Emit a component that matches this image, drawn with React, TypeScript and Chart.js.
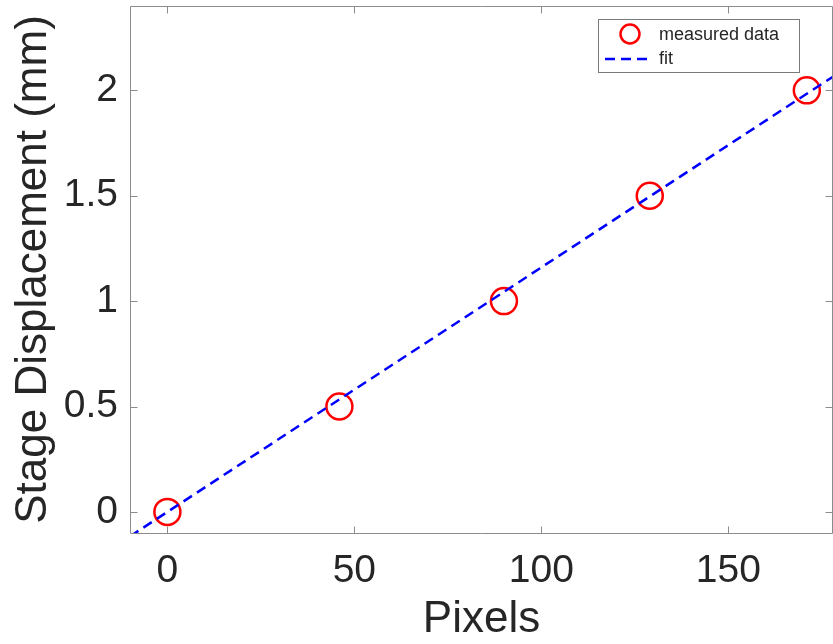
import { useEffect, useRef } from "react";
import { Chart, registerables } from "chart.js";

Chart.register(...registerables);

const FONT = '"Liberation Sans", Arial, Helvetica, sans-serif';

// Calibration data: stage displacement against measured pixel shift
const pixels = [0, 46, 90, 129, 171];
const displacement = [0, 0.5, 1, 1.5, 2];

// Linear fit, evaluated at the ends of the pixel range
const fitPixels = [-10, 180];
const fitDisplacement = [-0.116, 2.088];

const xTicks = [0, 50, 100, 150];
const yTicks = [0, 0.5, 1, 1.5, 2];
const xRange = [-10, 178];
const yRange = [-0.1, 2.4];

const AXIS_GRAY = "#8c8c8c";
const TEXT = "#262626";
const MARKER_RED = "#ff0000";
const FIT_BLUE = "#0000ff";

// Boxed axes with inward ticks on all four sides, plus a boxed legend
const framePlugin = {
  id: "frame",
  afterDatasetsDraw(chart: any) {
    const { ctx, chartArea: a, scales } = chart;
    const L = Math.round(a.left) + 0.5;
    const R = Math.round(a.right) - 0.5;
    const T = Math.round(a.top) + 0.5;
    const B = Math.round(a.bottom) + 0.5;
    const tick = 7;
    ctx.save();
    ctx.strokeStyle = AXIS_GRAY;
    ctx.lineWidth = 1;
    ctx.beginPath();
    ctx.rect(L, T, R - L, B - T);
    for (const v of xTicks) {
      const px = Math.round(scales.x.getPixelForValue(v)) + 0.5;
      ctx.moveTo(px, B);
      ctx.lineTo(px, B - tick);
      ctx.moveTo(px, T);
      ctx.lineTo(px, T + tick);
    }
    for (const v of yTicks) {
      const py = Math.round(scales.y.getPixelForValue(v)) + 0.5;
      ctx.moveTo(L, py);
      ctx.lineTo(L + tick, py);
      ctx.moveTo(R, py);
      ctx.lineTo(R - tick, py);
    }
    ctx.stroke();
    ctx.restore();
  },
  afterDraw(chart: any) {
    const { ctx } = chart;
    const measured = chart.data.datasets[1];
    const fit = chart.data.datasets[0];
    const box = { x: 598.5, y: 19.5, w: 201, h: 53 };
    ctx.save();
    ctx.fillStyle = "#ffffff";
    ctx.fillRect(box.x, box.y, box.w, box.h);
    ctx.strokeStyle = "#7a7a7a";
    ctx.lineWidth = 1;
    ctx.strokeRect(box.x, box.y, box.w, box.h);

    ctx.strokeStyle = measured.borderColor;
    ctx.lineWidth = 2.5;
    ctx.beginPath();
    ctx.arc(630, 34, 9.5, 0, Math.PI * 2);
    ctx.stroke();

    ctx.strokeStyle = fit.borderColor;
    ctx.lineWidth = 2.5;
    ctx.setLineDash([10, 6]);
    ctx.beginPath();
    ctx.moveTo(605, 59);
    ctx.lineTo(653, 59);
    ctx.stroke();
    ctx.setLineDash([]);

    ctx.fillStyle = TEXT;
    ctx.font = `18px ${FONT}`;
    ctx.textAlign = "left";
    ctx.textBaseline = "middle";
    ctx.fillText(measured.label, 659, 35);
    ctx.fillText(fit.label, 659, 59);
    ctx.restore();
  },
};

export default function App() {
  const canvasRef = useRef<HTMLCanvasElement>(null);

  useEffect(() => {
    const chart = new Chart(canvasRef.current!, {
      type: "scatter",
      data: {
        datasets: [
          {
            label: "fit",
            data: fitPixels.map((x, i) => ({ x, y: fitDisplacement[i] })),
            showLine: true,
            borderColor: FIT_BLUE,
            borderWidth: 2.5,
            borderDash: [10, 6],
            pointRadius: 0,
            fill: false,
            order: 0,
          },
          {
            label: "measured data",
            data: pixels.map((x, i) => ({ x, y: displacement[i] })),
            showLine: false,
            pointStyle: "circle",
            pointRadius: 13,
            borderColor: MARKER_RED,
            backgroundColor: "rgba(0,0,0,0)",
            borderWidth: 2.5,
            order: 1,
          },
        ],
      },
      options: {
        responsive: true,
        maintainAspectRatio: false,
        animation: false,
        layout: {
          autoPadding: false,
          padding: { top: 6, left: 0, right: 0, bottom: 0 },
        },
        plugins: {
          legend: { display: false },
          tooltip: { enabled: false },
        },
        scales: {
          x: {
            type: "linear",
            min: xRange[0],
            max: xRange[1],
            grid: { display: false, drawTicks: false },
            border: { display: false },
            afterBuildTicks: (s: any) => {
              s.ticks = xTicks.map((v) => ({ value: v }));
            },
            afterFit: (s: any) => {
              s.height = 111;
              s.paddingLeft = 0;
              s.paddingRight = 0;
            },
            ticks: {
              font: { family: FONT, size: 39 },
              color: TEXT,
              padding: 15,
              maxRotation: 0,
              autoSkip: false,
              callback: (v: any) => String(v),
            },
            title: {
              display: true,
              text: "Pixels",
              font: { family: FONT, size: 44, lineHeight: 1 },
              color: TEXT,
              padding: { top: 0, bottom: 2 },
            },
          },
          y: {
            type: "linear",
            min: yRange[0],
            max: yRange[1],
            grid: { display: false, drawTicks: false },
            border: { display: false },
            afterBuildTicks: (s: any) => {
              s.ticks = yTicks.map((v) => ({ value: v }));
            },
            afterFit: (s: any) => {
              s.width = 130;
              s.paddingTop = 0;
              s.paddingBottom = 0;
            },
            ticks: {
              font: { family: FONT, size: 39 },
              color: TEXT,
              padding: 12,
              autoSkip: false,
              callback: (v: any) => String(v),
            },
            title: {
              display: true,
              text: "Stage Displacement (mm)",
              font: { family: FONT, size: 44, lineHeight: 1 },
              color: TEXT,
              padding: { top: 12, bottom: 0 },
            },
          },
        },
      },
      plugins: [framePlugin],
    });
    return () => chart.destroy();
  }, []);

  return (
    <div
      style={{
        position: "fixed",
        left: 0,
        top: 0,
        width: 833,
        height: 644,
        background: "#ffffff",
      }}
    >
      <canvas ref={canvasRef} />
    </div>
  );
}
